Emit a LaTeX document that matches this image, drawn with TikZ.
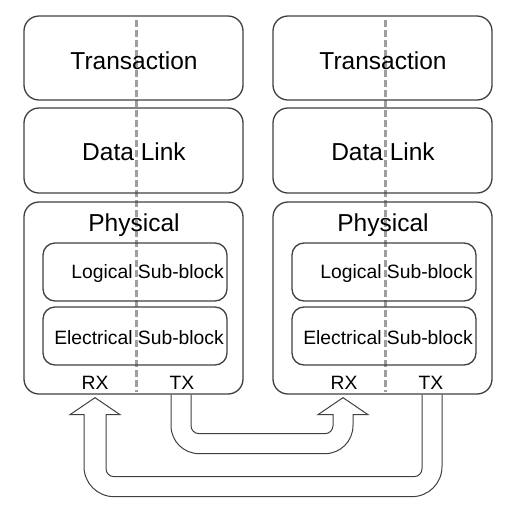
\documentclass[tikz,border=0pt]{standalone}
\usepackage{fontspec}
\setmainfont{Liberation Sans}
\usetikzlibrary{calc}

\begin{document}
\begin{tikzpicture}[x=1pt,y=-1pt,
  blk/.style={draw=black!75, line width=1.3pt, rounded corners=15pt},
  sub/.style={draw=black!75, line width=1.3pt, rounded corners=12pt},
  big/.style={font=\fontsize{24.5}{28}\selectfont},
  sml/.style={font=\fontsize{19.3}{22}\selectfont},
  sep/.style={draw=black!38, line width=3pt, dash pattern=on 7pt off 3pt},
  pipe/.style={draw=black!75, line width=1pt}]
\useasboundingbox (0,0) rectangle (520,507);
\foreach \s/\dx in {L/0, R/249} {
  \draw[sep] (136+\dx,20) -- (136+\dx,392);
  % layers
  \node[blk, minimum width=219, minimum height=84] (trans\s) at (133.5+\dx,58) {};
  \node[big] (translab\s) at (134+\dx,60.5) {Transaction};
  \node[blk, minimum width=219, minimum height=85] (link\s) at (133.5+\dx,150.5) {};
  \node[big] (linklab\s) at (134+\dx,152) {Data Link};
  \node[blk, minimum width=219, minimum height=192] (phys\s) at (133.5+\dx,298) {};
  \node[big] (physlab\s) at (134+\dx,225) {Physical};
  % sub-blocks
  \node[sub, minimum width=184, minimum height=58] (log\s) at (135+\dx,272) {};
  \node[sml, anchor=east, inner sep=0pt] (loglab\s) at (224+\dx,274) {Logical Sub-block};
  \node[sml, minimum width=184, minimum height=58, sub] (elec\s) at (135+\dx,336) {};
  \node[sml, anchor=east, inner sep=0pt] (eleclab\s) at (224+\dx,338) {Electrical Sub-block};
  \node[sml] (rx\s) at (95+\dx,383) {RX};
  \node[sml] (tx\s) at (182+\dx,383) {TX};
}
% TX left -> RX right
\coordinate (a1) at (txL |- physL.south);
\coordinate (b1) at (rxR |- physR.south);
\draw[pipe] ($(a1)+(-11,0)$) [rounded corners=28pt] -- ($(a1)+(-11,59)$) -- ($(b1)+(9,59)$)
  [sharp corners] -- ($(b1)+(9,20)$) -- ($(b1)+(24,20)$) -- ($(b1)+(-1,3)$) -- ($(b1)+(-26,20)$)
  -- ($(b1)+(-11,20)$) [rounded corners=8pt] -- ($(b1)+(-11,39)$) -- ($(a1)+(9,39)$)
  [sharp corners] -- ($(a1)+(9,0)$);
% TX right -> RX left
\coordinate (a2) at (txR |- physR.south);
\coordinate (b2) at (rxL |- physL.south);
\draw[pipe] ($(a2)+(11,0)$) [rounded corners=30pt] -- ($(a2)+(11,102)$) -- ($(b2)+(-11,102)$)
  [sharp corners] -- ($(b2)+(-11,20)$) -- ($(b2)+(-25,20)$) -- ($(b2)+(0,3)$) -- ($(b2)+(25,20)$)
  -- ($(b2)+(11,20)$) [rounded corners=8pt] -- ($(b2)+(11,82)$) -- ($(a2)+(-9,82)$)
  [sharp corners] -- ($(a2)+(-9,0)$);
\end{tikzpicture}
\end{document}
